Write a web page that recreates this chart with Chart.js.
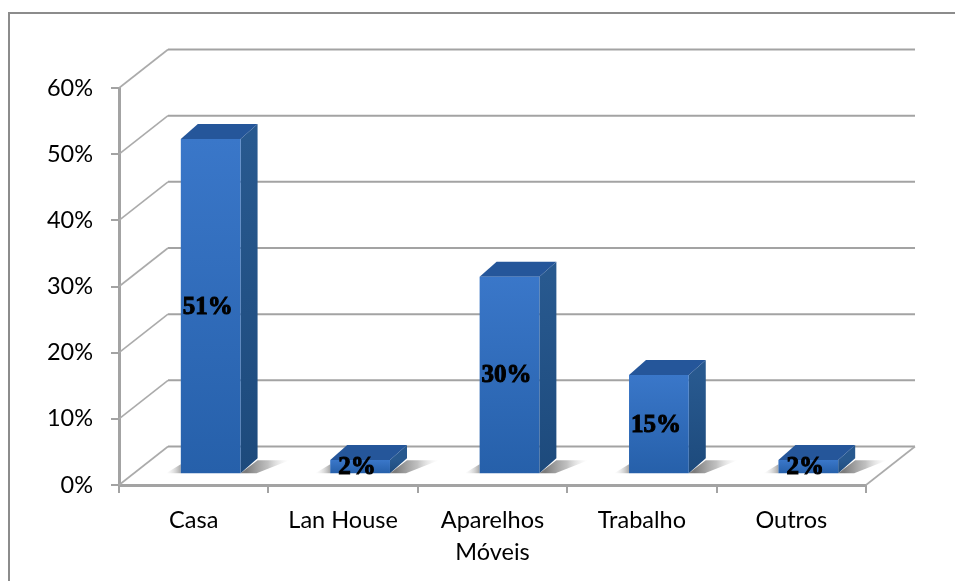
<!DOCTYPE html>
<html>
<head>
<meta charset="utf-8">
<style>
  html, body { margin: 0; padding: 0; background: #fff; }
  #wrap { width: 955px; height: 581px; }
</style>
<script src="https://cdn.jsdelivr.net/npm/chart.js@4"></script>
</head>
<body>
<div id="wrap"><canvas id="chart" width="955" height="581"></canvas></div>
<script>
const categories = ['Casa', 'Lan House', ['Aparelhos', 'Móveis'], 'Trabalho', 'Outros'];
const values = [51, 2, 30, 15, 2];

// depth of the fake 3D box
const wallDX = 49, wallDY = 38.5;
const barDX = 17, barDY = 15;
const barShift = 17;

const axisGrey = '#a3a3a3';

function floorShadows(c, l, r, base) {
  // wedge behind the right side of the bar
  let g = c.createLinearGradient(r + 6, 0, r + barDX + 32, 0);
  g.addColorStop(0, 'rgba(110,110,110,0.9)');
  g.addColorStop(0.5, 'rgba(150,150,150,0.6)');
  g.addColorStop(1, 'rgba(220,220,220,0)');
  c.fillStyle = g;
  c.beginPath();
  c.moveTo(r, base);
  c.lineTo(r + barDX, base - barDY + 2);
  c.lineTo(r + barDX + 32, base - barDY + 2);
  c.lineTo(r + 16, base);
  c.closePath();
  c.fill();
  // small one in front on the left
  g = c.createLinearGradient(l, 0, l - 15, 0);
  g.addColorStop(0, 'rgba(130,130,130,0.7)');
  g.addColorStop(1, 'rgba(220,220,220,0)');
  c.fillStyle = g;
  c.beginPath();
  c.moveTo(l, base);
  c.lineTo(l, base - 9);
  c.lineTo(l - 15, base);
  c.closePath();
  c.fill();
}

const box3d = {
  id: 'box3d',
  beforeDraw(chart) {
    const c = chart.ctx;
    c.save();
    c.fillStyle = '#fff';
    c.fillRect(0, 0, chart.width, chart.height);
    // outer frame, runs off the picture on the right and bottom
    c.strokeStyle = '#8c8c8c';
    c.lineWidth = 2;
    c.beginPath();
    c.moveTo(9, chart.height + 2);
    c.lineTo(9, 13);
    c.lineTo(chart.width + 2, 13);
    c.stroke();
    c.restore();
  },
  beforeDatasetsDraw(chart) {
    const c = chart.ctx;
    const y = chart.scales.y;
    const area = chart.chartArea;
    c.save();
    y.ticks.forEach(t => {
      const py = y.getPixelForValue(t.value);
      c.strokeStyle = axisGrey;
      c.lineWidth = 2;
      c.beginPath();
      c.moveTo(area.left + wallDX, py - wallDY);
      c.lineTo(area.right + wallDX, py - wallDY);
      c.stroke();
      c.strokeStyle = '#ababab';
      c.lineWidth = 1.6;
      c.beginPath();
      c.moveTo(area.left, py);
      c.lineTo(area.left + wallDX, py - wallDY);
      c.stroke();
    });
    // floor edge on the right
    const py0 = y.getPixelForValue(0);
    c.beginPath();
    c.moveTo(area.right, py0);
    c.lineTo(area.right + wallDX, py0 - wallDY);
    c.stroke();

    // shadows, then side and top of each bar
    chart.getDatasetMeta(0).data.forEach(bar => {
      const p = bar.getProps(['x', 'y', 'base', 'width'], true);
      const l = p.x - p.width / 2 + barShift;
      const r = p.x + p.width / 2 + barShift;
      floorShadows(c, l, r, p.base);

      const side = c.createLinearGradient(0, p.y, 0, p.base);
      side.addColorStop(0, '#28598f');
      side.addColorStop(1, '#1d4a7c');
      c.fillStyle = side;
      c.beginPath();
      c.moveTo(r, p.y);
      c.lineTo(r + barDX, p.y - barDY);
      c.lineTo(r + barDX, p.base - barDY);
      c.lineTo(r, p.base);
      c.closePath();
      c.fill();

      c.fillStyle = '#25569a';
      c.beginPath();
      c.moveTo(l, p.y);
      c.lineTo(l + barDX, p.y - barDY);
      c.lineTo(r + barDX, p.y - barDY);
      c.lineTo(r, p.y);
      c.closePath();
      c.fill();
    });
    c.restore();
  },
  beforeDatasetDraw(chart) {
    chart.ctx.save();
    chart.ctx.translate(barShift, 0);
  },
  afterDatasetDraw(chart) {
    chart.ctx.restore();
  },
  afterDatasetsDraw(chart) {
    const c = chart.ctx;
    c.save();
    c.font = 'bold 25px "Liberation Serif"';
    c.textAlign = 'center';
    c.textBaseline = 'middle';
    c.fillStyle = '#000';
    c.strokeStyle = '#000';
    c.lineWidth = 1;
    chart.getDatasetMeta(0).data.forEach((bar, i) => {
      const p = bar.getProps(['x', 'y', 'base'], true);
      const tx = p.x + barShift - 3;
      const ty = (p.y + p.base) / 2 + 1;
      c.fillText(values[i] + '%', tx, ty);
      c.strokeText(values[i] + '%', tx, ty);
    });
    c.restore();
  }
};

new Chart(document.getElementById('chart').getContext('2d'), {
  type: 'bar',
  data: {
    labels: categories,
    datasets: [{
      data: values,
      yAxisID: 'yBars',
      barPercentage: 0.4,
      categoryPercentage: 1,
      borderWidth: 0,
      backgroundColor(ctx) {
        const yb = ctx.chart.scales.yBars;
        const top = yb ? yb.getPixelForValue(values[ctx.dataIndex]) : NaN;
        const bot = yb ? yb.getPixelForValue(0) : NaN;
        if (!Number.isFinite(top) || !Number.isFinite(bot)) return '#2f6bb8';
        const g = ctx.chart.ctx.createLinearGradient(0, top, 0, bot);
        g.addColorStop(0, '#3a77c9');
        g.addColorStop(1, '#2660aa');
        return g;
      }
    }]
  },
  options: {
    responsive: false,
    animation: false,
    events: [],
    layout: { padding: { top: 88, right: 89, left: 0, bottom: 0 } },
    plugins: { legend: { display: false }, title: { display: false }, tooltip: { enabled: false } },
    scales: {
      x: {
        afterFit(s) { s.height = 96; },
        border: { color: axisGrey, width: 3 },
        grid: { drawOnChartArea: false, drawTicks: true, tickLength: 8, color: axisGrey, lineWidth: 2 },
        ticks: { color: '#000', font: { family: 'Lato', size: 23.5, lineHeight: 1.36 }, padding: 11, maxRotation: 0, autoSkip: false }
      },
      y: {
        min: 0,
        max: 60,
        afterFit(s) { s.width = 119; },
        border: { color: axisGrey, width: 3 },
        grid: { drawOnChartArea: false, drawTicks: true, tickLength: 8, color: axisGrey, lineWidth: 2 },
        ticks: {
          stepSize: 10,
          color: '#000',
          font: { family: 'Lato', size: 23.5 },
          padding: 18,
          callback: v => v + '%'
        }
      },
      // bars stand a little in from the front edge of the floor
      yBars: { display: false, min: -1.8, max: 58.8 }
    }
  },
  plugins: [box3d]
});
</script>
</body>
</html>
